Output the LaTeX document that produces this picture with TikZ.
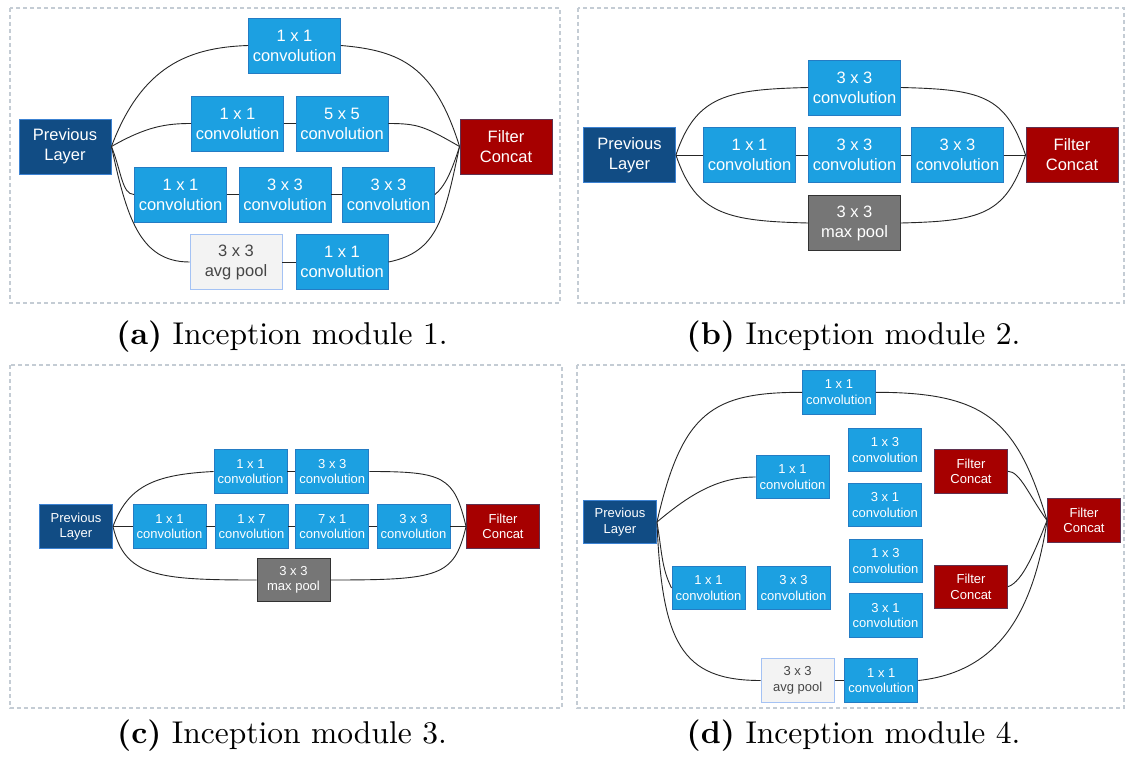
\documentclass[tikz,border=0pt]{standalone}
\usepackage{fontspec}
\newfontfamily\boxfont{Liberation Sans}
\definecolor{convfill}{RGB}{28,160,225}
\definecolor{convline}{RGB}{36,124,196}
\definecolor{prevfill}{RGB}{17,76,132}
\definecolor{prevline}{RGB}{60,130,210}
\definecolor{catfill}{RGB}{166,0,0}
\definecolor{catline}{RGB}{95,50,80}
\definecolor{mpfill}{RGB}{118,118,118}
\definecolor{mpline}{RGB}{50,50,50}
\definecolor{apfill}{RGB}{243,243,243}
\definecolor{apline}{RGB}{164,194,244}
\definecolor{aptext}{RGB}{70,70,70}
\definecolor{framecol}{RGB}{196,204,212}
\tikzset{
  box/.style={draw, line width=0.9pt, inner sep=0pt, align=center, text=white},
  big/.style={minimum width=92pt, minimum height=55pt, font=\boxfont\fontsize{16.5}{20}\selectfont},
  small/.style={minimum width=73pt, minimum height=43.5pt, font=\boxfont\fontsize{13}{15.5}\selectfont},
  conv/.style={box, fill=convfill, draw=convline},
  prev/.style={box, fill=prevfill, draw=prevline},
  cat/.style={box, fill=catfill, draw=catline},
  mpool/.style={box, fill=mpfill, draw=mpline},
  apool/.style={box, fill=apfill, draw=apline, text=aptext},
  link/.style={draw=black!85, line width=0.9pt},
  frame/.style={draw=framecol, dash pattern=on 4pt off 3pt, line width=1.1pt},
  caption/.style={scale=3.15, inner sep=0pt, font=\fontsize{10}{12}\selectfont}
}
\begin{document}
\begin{tikzpicture}[x=1pt, y=-1pt]
\useasboundingbox (0,0) rectangle (1125,760);
\fill[white] (0,0) rectangle (1125,760);

% panel frames
\draw[frame] (10,8) rectangle (560,303);
\draw[frame] (578,8) rectangle (1124,303);
\draw[frame] (10,365) rectangle (562,708);
\draw[frame] (577,365) rectangle (1124,708);

% ---------- module 1 ----------
\node[prev, big] (pa) at (65,146.5) {Previous\\Layer};
\node[conv, big] (a1) at (294.5,45.5) {1 x 1\\convolution};
\node[conv, big] (a2a) at (237.5,123.5) {1 x 1\\convolution};
\node[conv, big] (a2b) at (342,123.5) {5 x 5\\convolution};
\node[conv, big] (a3a) at (180.5,194.5) {1 x 1\\convolution};
\node[conv, big] (a3b) at (285,194.5) {3 x 3\\convolution};
\node[conv, big] (a3c) at (388.5,194.5) {3 x 3\\convolution};
\node[apool, big] (a4a) at (236,262) {3 x 3\\avg pool};
\node[conv, big] (a4b) at (342,262) {1 x 1\\convolution};
\node[cat, big] (ca) at (506,146.5) {Filter\\Concat};

\draw[link] (pa.east) .. controls +(30,-80) and +(-60,2) .. (a1.west);
\draw[link] (pa.east) .. controls +(35,-20) and +(-25,0) .. (a2a.west);
\draw[link] (pa.east) .. controls +(10,25) and +(-12,0) .. (a3a.west);
\draw[link] (pa.east) .. controls +(15,70) and +(-50,0) .. (a4a.west);
\draw[link] (a2a) -- (a2b);
\draw[link] (a3a) -- (a3b);
\draw[link] (a3b) -- (a3c);
\draw[link] (a4a) -- (a4b);
\draw[link] (a1.east) .. controls +(60,5) and +(-25,-80) .. (ca.west);
\draw[link] (a2b.east) .. controls +(30,0) and +(-35,-20) .. (ca.west);
\draw[link] (a3c.east) .. controls +(10,-8) and +(-8,25) .. (ca.west);
\draw[link] (a4b.east) .. controls +(50,-10) and +(-15,70) .. (ca.west);

% ---------- module 2 ----------
\node[prev, big] (pb) at (629.5,155) {Previous\\Layer};
\node[conv, big] (b1) at (854.5,87.5) {3 x 3\\convolution};
\node[conv, big] (b2a) at (749.5,155) {1 x 1\\convolution};
\node[conv, big] (b2b) at (854.5,155) {3 x 3\\convolution};
\node[conv, big] (b2c) at (957.5,155) {3 x 3\\convolution};
\node[mpool, big] (b3) at (854.5,223) {3 x 3\\max pool};
\node[cat, big] (cb) at (1072,155) {Filter\\Concat};

\draw[link] (pb.east) .. controls +(20,-60) and +(-80,2) .. (b1.west);
\draw[link] (pb.east) .. controls +(20,60) and +(-80,-2) .. (b3.west);
\draw[link] (pb) -- (b2a);
\draw[link] (b2a) -- (b2b);
\draw[link] (b2b) -- (b2c);
\draw[link] (b2c) -- (cb);
\draw[link] (b1.east) .. controls +(80,2) and +(-20,-60) .. (cb.west);
\draw[link] (b3.east) .. controls +(80,-2) and +(-20,60) .. (cb.west);

% ---------- module 3 ----------
\node[prev, small] (pc) at (76,526.5) {Previous\\Layer};
\node[conv, small] (c1a) at (250.5,471.5) {1 x 1\\convolution};
\node[conv, small] (c1b) at (332.3,471.5) {3 x 3\\convolution};
\node[conv, small] (c2a) at (169.5,526.5) {1 x 1\\convolution};
\node[conv, small] (c2b) at (251.5,526.5) {1 x 7\\convolution};
\node[conv, small] (c2c) at (332.3,526.5) {7 x 1\\convolution};
\node[conv, small] (c2d) at (413.5,526.5) {3 x 3\\convolution};
\node[mpool, small] (c3) at (293.5,580) {3 x 3\\max pool};
\node[cat, small] (cc) at (503,526.5) {Filter\\Concat};

\draw[link] (pc.east) .. controls +(15,-40) and +(-60,3) .. (c1a.west);
\draw[link] (pc.east) .. controls +(12,50) and +(-100,0) .. (c3.west);
\draw[link] (c1a) -- (c1b);
\draw[link] (pc) -- (c2a);
\draw[link] (c2a) -- (c2b);
\draw[link] (c2b) -- (c2c);
\draw[link] (c2c) -- (c2d);
\draw[link] (c2d) -- (cc);
\draw[link] (c1b.east) .. controls +(75,0) and +(-12,-50) .. (cc.west);
\draw[link] (c3.east) .. controls +(110,0) and +(-12,50) .. (cc.west);

% ---------- module 4 ----------
\node[prev, small] (pd) at (620,522) {Previous\\Layer};
\node[conv, small] (d1) at (839,392.3) {1 x 1\\convolution};
\node[conv, small] (d2) at (792.5,477) {1 x 1\\convolution};
\node[conv, small] (d3) at (885,450) {1 x 3\\convolution};
\node[conv, small] (d4) at (885,505) {3 x 1\\convolution};
\node[cat, small] (d5) at (971,471.3) {Filter\\Concat};
\node[conv, small] (d6) at (708.5,588) {1 x 1\\convolution};
\node[conv, small] (d7) at (793.5,588) {3 x 3\\convolution};
\node[conv, small] (d8) at (885.5,561) {1 x 3\\convolution};
\node[conv, small] (d9) at (885.5,615.5) {3 x 1\\convolution};
\node[cat, small] (d10) at (971,586.7) {Filter\\Concat};
\node[apool, small] (d11) at (797.6,680.5) {3 x 3\\avg pool};
\node[conv, small] (d12) at (881.3,680.5) {1 x 1\\convolution};
\node[cat, small] (cd) at (1084,520.5) {Filter\\Concat};

\draw[link] (pd.east) .. controls +(25,-110) and +(-90,0) .. (d1.west);
\draw[link] (pd.east) .. controls +(30,-25) and +(-40,0) .. (d2.west);
\draw[link] (pd.east) .. controls +(5,30) and +(-10,-20) .. (d6.west);
\draw[link] (pd.east) .. controls +(5,120) and +(-80,0) .. (d11.west);
\draw[link] (d11) -- (d12);
\draw[link] (d1.east) .. controls +(110,0) and +(-30,-100) .. (cd.west);
\draw[link] (d5.east) .. controls +(12,0) and +(-18,-25) .. (cd.west);
\draw[link] (d10.east) .. controls +(15,-5) and +(-12,30) .. (cd.west);
\draw[link] (d12.east) .. controls +(75,-8) and +(-15,100) .. (cd.west);

% ---------- captions ----------
\node[caption] (capa) at (282,337) {\textbf{(a)} Inception module 1.};
\node[caption] (capb) at (853.5,337) {\textbf{(b)} Inception module 2.};
\node[caption] (capc) at (282,736) {\textbf{(c)} Inception module 3.};
\node[caption] (capd) at (853.5,736) {\textbf{(d)} Inception module 4.};
\end{tikzpicture}
\end{document}
